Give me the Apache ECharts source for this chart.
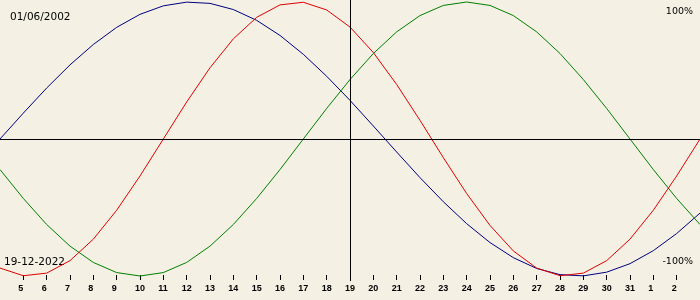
<!DOCTYPE html>
<html>
<head>
<meta charset="utf-8">
<script src="https://cdn.jsdelivr.net/npm/echarts@6/dist/echarts.min.js"></script>
<style>
html,body{margin:0;padding:0;background:#f4f0e4;}
#chart{width:700px;height:300px;}
</style>
</head>
<body>
<div id="chart"></div>
<script>
// Days shown (4 Dec 2022 .. 3 Jan 2023), target day 19
const categories = ['4','5','6','7','8','9','10','11','12','13','14','15','16','17','18','19','20','21','22','23','24','25','26','27','28','29','30','31','1','2','3'];
const targetDay = '19';
// Physical (red)
const physical = [-0.942,-0.998,-0.979,-0.888,-0.731,-0.520,-0.270,0,0.270,0.520,0.731,0.888,0.979,0.998,0.942,0.817,0.631,0.398,0.136,-0.136,-0.398,-0.631,-0.817,-0.942,-0.998,-0.979,-0.888,-0.731,-0.520,-0.270,0];
// Emotional (green)
const emotional = [-0.223,-0.434,-0.624,-0.782,-0.901,-0.975,-1.0,-0.975,-0.901,-0.782,-0.624,-0.434,-0.223,0,0.223,0.434,0.624,0.782,0.901,0.975,1.0,0.975,0.901,0.782,0.624,0.434,0.223,0,-0.223,-0.434,-0.624];
// Intellectual (blue)
const intellectual = [0,0.189,0.372,0.541,0.690,0.815,0.910,0.972,0.999,0.990,0.945,0.866,0.756,0.618,0.458,0.282,0.095,-0.095,-0.282,-0.458,-0.618,-0.756,-0.866,-0.945,-0.990,-0.999,-0.972,-0.910,-0.815,-0.690,-0.541];
const birthDate = '01/06/2002';
const targetDate = '19-12-2022';
const yLabels = ['100%', '-100%'];

const chart = echarts.init(document.getElementById('chart'), null, {renderer: 'canvas'});
const lastIdx = categories.length - 1;
const showIdx = (i) => i > 0 && i < lastIdx;

chart.setOption({
  backgroundColor: '#f4f0e4',
  animation: false,
  grid: {left: 0, right: 0, top: 0, bottom: 19},
  xAxis: {
    type: 'category',
    data: categories,
    boundaryGap: false,
    offset: -6,
    axisLine: {show: false, onZero: false},
    axisTick: {show: true, length: 5, interval: showIdx, lineStyle: {color: '#000', width: 1}},
    axisLabel: {
      interval: showIdx, margin: 9, align: 'center',
      formatter: (v) => '{d|' + v + '}',
      rich: {d: {width: 10, align: 'left', color: '#000', fontSize: 9, fontWeight: 'bold', fontFamily: 'Liberation Sans'}}
    },
    splitLine: {show: false}
  },
  yAxis: {
    type: 'value', min: -1.0365, max: 1.0146,
    axisLine: {show: false}, axisTick: {show: false}, axisLabel: {show: false}, splitLine: {show: false}
  },
  series: [
    {name: 'Intellectual', type: 'line', data: intellectual, showSymbol: false, symbol: 'none', clip: false,
     lineStyle: {color: '#000080', width: 1}, itemStyle: {color: '#000080'}},
    {name: 'Emotional', type: 'line', data: emotional, showSymbol: false, symbol: 'none', clip: false,
     lineStyle: {color: '#008000', width: 1}, itemStyle: {color: '#008000'}},
    {name: 'Physical', type: 'line', data: physical, showSymbol: false, symbol: 'none', clip: false,
     lineStyle: {color: '#e00000', width: 1}, itemStyle: {color: '#e00000'},
     markLine: {
       silent: true, symbol: 'none', label: {show: false},
       lineStyle: {color: '#000', width: 1, type: 'solid'},
       data: [
         {yAxis: 0},
         {xAxis: targetDay}
       ]
     }}
  ],
  graphic: [
    {type: 'text', x: 10, y: 17, style: {text: birthDate, fill: '#000', font: '10.5px "DejaVu Sans"', align: 'left', verticalAlign: 'middle'}},
    {type: 'text', x: 4, y: 262, style: {text: targetDate, fill: '#000', font: '10.5px "DejaVu Sans"', align: 'left', verticalAlign: 'middle'}},
    {type: 'text', x: 693, y: 12, style: {text: yLabels[0], fill: '#000', font: '9.5px "DejaVu Sans"', align: 'right', verticalAlign: 'middle'}},
    {type: 'text', x: 693, y: 262, style: {text: yLabels[1], fill: '#000', font: '9.5px "DejaVu Sans"', align: 'right', verticalAlign: 'middle'}}
  ]
});
</script>
</body>
</html>
